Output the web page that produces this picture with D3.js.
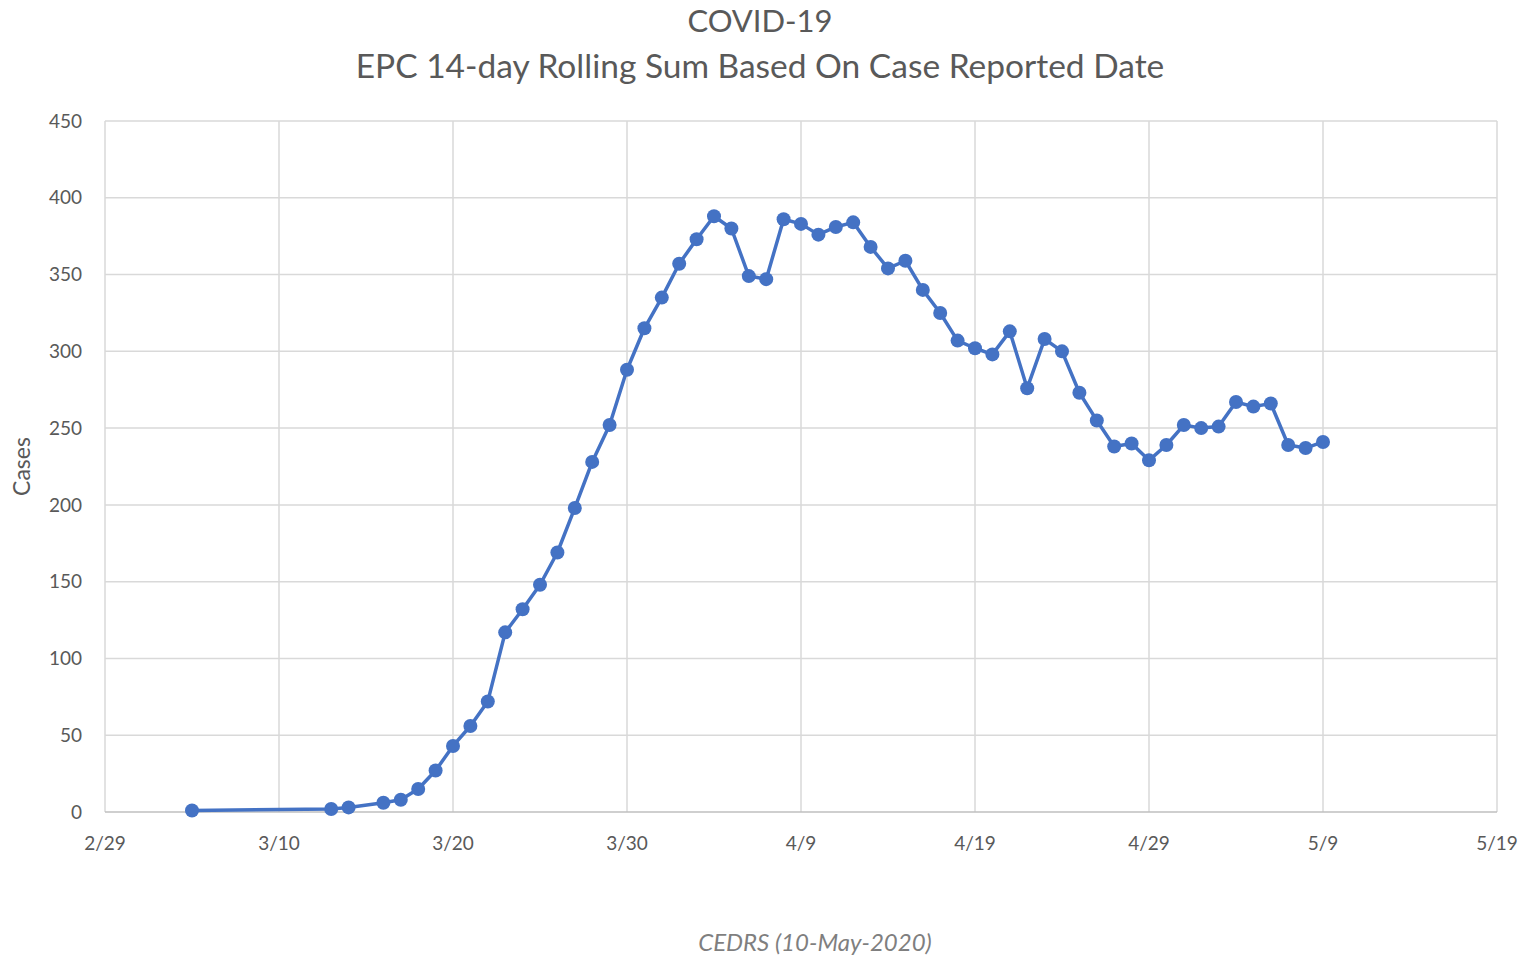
<!DOCTYPE html>
<html>
<head>
<meta charset="utf-8">
<script src="https://cdn.jsdelivr.net/npm/d3@7"></script>
<style>
  body { margin: 0; background: #fff; }
  svg { font-family: Lato, "Open Sans", sans-serif; }
</style>
</head>
<body>
<div id="chart"></div>
<script>
// dates (2020) and 14-day rolling sums
const dates = ["3/5","3/13","3/14","3/16","3/17","3/18","3/19","3/20","3/21","3/22","3/23","3/24","3/25","3/26","3/27","3/28","3/29","3/30","3/31",
  "4/1","4/2","4/3","4/4","4/5","4/6","4/7","4/8","4/9","4/10","4/11","4/12","4/13","4/14","4/15","4/16","4/17","4/18","4/19","4/20",
  "4/21","4/22","4/23","4/24","4/25","4/26","4/27","4/28","4/29","4/30","5/1","5/2","5/3","5/4","5/5","5/6","5/7","5/8","5/9"]
const cases = [1,2,3,6,8,15,27,43,56,72,117,132,148,169,198,228,252,288,315,
  335,357,373,388,380,349,347,386,383,376,381,384,368,354,359,340,325,307,302,298,
  313,276,308,300,273,255,238,240,229,239,252,250,251,267,264,266,239,237,241]
const xTicks = ["2/29","3/10","3/20","3/30","4/9","4/19","4/29","5/9","5/19"]
const yTicks = [0,50,100,150,200,250,300,350,400,450]

const parse = s => { const p = s.split("/"); return new Date(2020, +p[0] - 1, +p[1]) }
const data = dates.map((d, i) => ({ date: parse(d), value: cases[i] }))

const width = 1522, height = 958
const margin = { left: 105, right: 25, top: 121, bottom: 146 }

const svg = d3.select("#chart").append("svg")
  .attr("width", width)
  .attr("height", height)

const x = d3.scaleTime()
  .domain([parse(xTicks[0]), parse(xTicks[xTicks.length - 1])])
  .range([margin.left, width - margin.right])

const y = d3.scaleLinear()
  .domain([0, 450])
  .range([height - margin.bottom, margin.top])

// gridlines
svg.append("g")
  .selectAll("line.h")
  .data(yTicks.slice(1))
  .enter().append("line")
  .attr("x1", margin.left).attr("x2", width - margin.right)
  .attr("y1", d => y(d)).attr("y2", d => y(d))
  .attr("stroke", "#d9d9d9").attr("stroke-width", 1.5)

svg.append("g")
  .selectAll("line.v")
  .data(xTicks)
  .enter().append("line")
  .attr("x1", d => x(parse(d))).attr("x2", d => x(parse(d)))
  .attr("y1", y(0)).attr("y2", y(450))
  .attr("stroke", "#d9d9d9").attr("stroke-width", 1.5)

// bottom axis line
svg.append("line")
  .attr("x1", margin.left).attr("x2", width - margin.right)
  .attr("y1", y(0)).attr("y2", y(0))
  .attr("stroke", "#bfbfbf").attr("stroke-width", 1.5)

// y tick labels
svg.append("g")
  .selectAll("text")
  .data(yTicks)
  .enter().append("text")
  .attr("x", margin.left - 23)
  .attr("y", d => y(d))
  .attr("dy", "0.35em")
  .attr("text-anchor", "end")
  .attr("fill", "#595959")
  .style("font-size", "19px")
  .text(d => d)

// x tick labels
svg.append("g")
  .selectAll("text")
  .data(xTicks)
  .enter().append("text")
  .attr("x", d => x(parse(d)))
  .attr("y", y(0) + 38)
  .attr("text-anchor", "middle")
  .attr("fill", "#595959")
  .style("font-size", "19px")
  .text(d => d)

// line
const line = d3.line()
  .x(d => x(d.date))
  .y(d => y(d.value))

svg.append("path")
  .datum(data)
  .attr("d", line)
  .attr("fill", "none")
  .attr("stroke", "#4472c4")
  .attr("stroke-width", 3.5)
  .attr("stroke-linejoin", "round")

svg.append("g")
  .selectAll("circle")
  .data(data)
  .enter().append("circle")
  .attr("cx", d => x(d.date))
  .attr("cy", d => y(d.value))
  .attr("r", 7)
  .attr("fill", "#4472c4")

// titles
svg.append("text")
  .attr("x", 760).attr("y", 32)
  .attr("text-anchor", "middle")
  .attr("fill", "#595959")
  .style("font-size", "31px")
  .text("COVID-19")

svg.append("text")
  .attr("x", 760).attr("y", 78)
  .attr("text-anchor", "middle")
  .attr("fill", "#595959")
  .style("font-size", "33.5px")
  .text("EPC 14-day Rolling Sum Based On Case Reported Date")

// y axis title
svg.append("text")
  .attr("transform", "translate(30," + (y(225)) + ") rotate(-90)")
  .attr("text-anchor", "middle")
  .attr("fill", "#595959")
  .style("font-size", "23px")
  .text("Cases")

// source note
svg.append("text")
  .attr("x", 815).attr("y", 951)
  .attr("text-anchor", "middle")
  .attr("fill", "#7f7f7f")
  .style("font-size", "24px")
  .style("font-style", "italic")
  .text("CEDRS (10-May-2020)")
</script>
</body>
</html>
